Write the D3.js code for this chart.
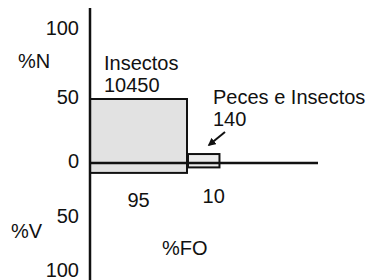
<!DOCTYPE html>
<html>
<head>
<meta charset="utf-8">
<script src="https://cdn.jsdelivr.net/npm/d3@7/dist/d3.min.js"></script>
<style>
body { margin: 0; background: #fff; }
text { font-family: "Liberation Sans", Arial, sans-serif; fill: #111; }
</style>
</head>
<body>
<div class="chart"></div>
<script>
// prey groups (Costello style plot)
var preys = ["Insectos", "Peces e Insectos"];
var counts = [10450, 140];
var pctN = [50, 7];
var pctV = [9, 4];
var pctFO = [95, 10];
var tickValues = [0, 50, 100];

var w = 374;
var h = 280;

var svg = d3.select(".chart")
    .append("svg")
    .attr("width", w)
    .attr("height", h);

var x0 = 90;
var yN = d3.scaleLinear().domain([0, 50, 100]).range([163, 99, 30]);
var yV = d3.scaleLinear().domain([0, 50, 100]).range([163, 218, 272]);
var wFO = d3.scaleSqrt().domain([0, 95]).range([0, 97]);

// bar x positions, one after the other
var bars = [];
var cur = x0;
preys.forEach(function (p, i) {
    bars.push({ name: p, n: counts[i], N: pctN[i], V: pctV[i], FO: pctFO[i], x: cur, w: wFO(pctFO[i]) });
    cur += wFO(pctFO[i]) + 1;
});

svg.append("g")
    .selectAll("rect")
    .data(bars)
    .enter().append("rect")
    .attr("x", function (d) { return d.x; })
    .attr("y", function (d) { return yN(d.N); })
    .attr("width", function (d) { return d.w; })
    .attr("height", function (d) { return yV(d.V) - yN(d.N); })
    .attr("fill", function (d, i) { return i == 0 ? "#e2e2e2" : "#ececec"; })
    .attr("stroke", "#111")
    .attr("stroke-width", 2);

// axes
svg.append("line")
    .attr("x1", x0).attr("x2", 318)
    .attr("y1", yN(0)).attr("y2", yN(0))
    .attr("stroke", "#111").attr("stroke-width", 2.5);

svg.append("line")
    .attr("x1", x0).attr("x2", x0)
    .attr("y1", 8).attr("y2", h)
    .attr("stroke", "#111").attr("stroke-width", 2.5);

// tick labels
svg.append("g")
    .selectAll("text")
    .data(tickValues)
    .enter().append("text")
    .attr("x", 79)
    .attr("y", function (d) { return yN(d) + 5; })
    .attr("text-anchor", "end")
    .attr("font-size", 20)
    .text(function (d) { return d; });

svg.append("g")
    .selectAll("text")
    .data(tickValues.slice(1))
    .enter().append("text")
    .attr("x", 79)
    .attr("y", function (d) { return yV(d) + 5; })
    .attr("text-anchor", "end")
    .attr("font-size", 20)
    .text(function (d) { return d; });

svg.append("text").text("%N").attr("x", 18).attr("y", 68).attr("font-size", 20);
svg.append("text").text("%V").attr("x", 11).attr("y", 238).attr("font-size", 20);
svg.append("text").text("%FO").attr("x", 162).attr("y", 255).attr("font-size", 20);

// FO values below bars
var foDx = [0, 10];
svg.append("g")
    .selectAll("text")
    .data(bars)
    .enter().append("text")
    .attr("x", function (d, i) { return d.x + d.w / 2 + foDx[i]; })
    .attr("y", function (d, i) { return i == 0 ? 207 : 203; })
    .attr("text-anchor", "middle")
    .attr("font-size", 20)
    .text(function (d) { return d.FO; });

// prey names and counts
svg.append("text").text(bars[0].name).attr("x", bars[0].x + 14).attr("y", 70).attr("font-size", 20);
svg.append("text").text(bars[0].n).attr("x", bars[0].x + 14).attr("y", 92).attr("font-size", 20);
svg.append("text").text(bars[1].name).attr("x", bars[1].x + 25).attr("y", 104).attr("font-size", 20);
svg.append("text").text(bars[1].n).attr("x", bars[1].x + 25).attr("y", 126).attr("font-size", 20);

// arrow pointing at the small box
svg.append("defs").append("marker")
    .attr("id", "head")
    .attr("viewBox", "0 0 10 10")
    .attr("refX", 8).attr("refY", 5)
    .attr("markerWidth", 4).attr("markerHeight", 4)
    .attr("orient", "auto")
    .append("path")
    .attr("d", "M0,0L10,5L0,10Z")
    .attr("fill", "#111");

svg.append("line")
    .attr("x1", 225).attr("y1", 132)
    .attr("x2", 209).attr("y2", 145)
    .attr("stroke", "#111").attr("stroke-width", 2)
    .attr("marker-end", "url(#head)");
</script>
</body>
</html>
